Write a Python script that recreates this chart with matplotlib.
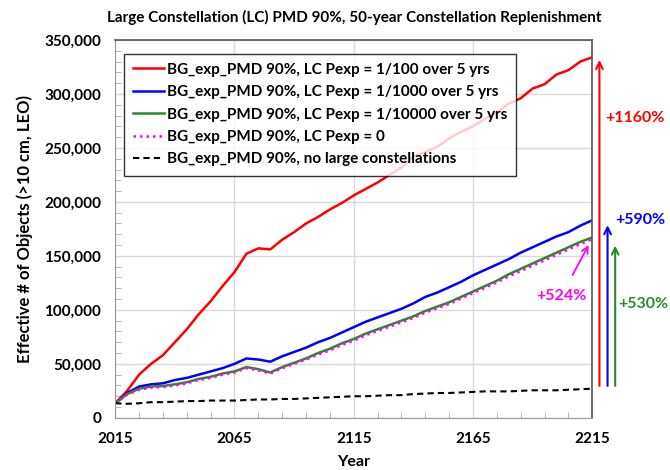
import matplotlib
matplotlib.use('Agg')
import matplotlib.pyplot as plt
from matplotlib.ticker import MultipleLocator, FuncFormatter, FixedLocator
import numpy as np

plt.rcParams['font.family'] = ['Lato', 'DejaVu Sans']
plt.rcParams['font.weight'] = 'bold'

years = list(range(2015, 2216, 5))

lc_100 = [13.5, 25, 40, 50, 58, 70, 82, 96, 108, 122, 135, 152, 157, 156, 165, 172, 180,
          186, 193, 199, 206, 212, 218, 225, 232, 242, 246, 251, 259, 265, 270, 277, 283,
          291, 296, 305, 309, 318, 322, 330, 334]
lc_1000 = [13.5, 23, 29, 31, 32, 35, 37, 40, 43, 46, 50, 55, 54, 52, 57, 61, 65, 70, 74,
           79, 84, 89, 93, 97, 101, 106, 112, 116, 121, 126, 132, 137, 142, 147, 153, 158,
           163, 168, 172, 178, 183]
lc_10000 = [13.5, 22, 27, 29, 29.5, 31, 33, 36, 38, 41, 43, 47, 45, 42, 47, 51, 55, 60, 64,
            69, 73, 78, 82, 86, 90, 94, 99, 103, 107, 112, 117, 122, 127, 133, 138, 143,
            148, 153, 158, 163, 167]
lc_0 = [13.5, 21.5, 26, 28, 28.5, 30, 32, 35, 37, 40, 42, 46, 44, 41, 46, 50, 54, 58.5, 62.5,
        67.5, 71.5, 76.5, 80.5, 84.5, 88.5, 92.5, 97.5, 101.5, 105.5, 110.5, 115.5, 120.5,
        125.5, 131, 136, 141, 146, 151, 156, 161, 165.5]
no_lc = [13.5, 13, 13.5, 14.5, 14.5, 15, 15.5, 15.5, 16, 16, 16, 16.5, 17, 17, 17.5, 17.5,
         18, 18.5, 19, 19.5, 20, 20, 20.5, 21, 21, 22, 22.5, 23, 23, 23.5, 24, 24.5, 24.5,
         24.5, 25, 25.5, 25.5, 25.5, 26, 26.5, 27]

labels = ['BG_exp_PMD 90%, LC Pexp = 1/100 over 5 yrs',
          'BG_exp_PMD 90%, LC Pexp = 1/1000 over 5 yrs',
          'BG_exp_PMD 90%, LC Pexp = 1/10000 over 5 yrs',
          'BG_exp_PMD 90%, LC Pexp = 0',
          'BG_exp_PMD 90%, no large constellations']
xticks = [2015, 2065, 2115, 2165, 2215]

k = 1000
fig = plt.figure(figsize=(6.7, 4.7), dpi=100)
ax = fig.add_axes([0.172, 0.111, 0.712, 0.804])

ax.plot(years, np.array(lc_100) * k, color='#ff0000', lw=1.8, label=labels[0])
ax.plot(years, np.array(lc_1000) * k, color='#0000ff', lw=1.8, label=labels[1])
ax.plot(years, np.array(lc_10000) * k, color='#2a8a2a', lw=1.8, label=labels[2])
ax.plot(years, np.array(lc_0) * k, color='#ff00ff', lw=1.8, ls=(0, (1, 1.6)), label=labels[3])
ax.plot(years, np.array(no_lc) * k, color='black', lw=1.5, ls=(0, (3, 2)), label=labels[4])

ax.set_xlim(2015, 2215)
ax.set_ylim(0, 350000)
ax.xaxis.set_major_locator(FixedLocator(xticks))
ax.xaxis.set_minor_locator(FixedLocator(list(range(2025, 2215, 10))))
ax.yaxis.set_major_locator(MultipleLocator(50000))
ax.yaxis.set_minor_locator(MultipleLocator(10000))
ax.yaxis.set_major_formatter(FuncFormatter(lambda v, p: '0' if v == 0 else f'{int(v):,}'))
ax.grid(True, which='major', color='#d9d9d9', lw=1)
ax.tick_params(which='major', length=0, labelsize=11, pad=10)
ax.tick_params(which='minor', direction='in', length=4, color='#aaaaaa')
for lab in ax.get_xticklabels() + ax.get_yticklabels():
    lab.set_fontweight('bold')
for s in ['left', 'bottom']:
    ax.spines[s].set_color('#999999')
for s in ['top', 'right']:
    ax.spines[s].set_color('#555555')
    ax.spines[s].set_linewidth(1.2)

ax.set_xlabel('Year', fontsize=11.5, fontweight='bold', labelpad=7)
ax.set_ylabel('Effective # of Objects (>10 cm, LEO)', fontsize=12, fontweight='bold', labelpad=8)
ax.set_title('Large Constellation (LC) PMD 90%, 50-year Constellation Replenishment',
             fontsize=11, fontweight='bold', pad=13)

leg = ax.legend(loc='upper left', bbox_to_anchor=(0.002, 0.984), fontsize=11, frameon=True,
                fancybox=False, edgecolor='black', handlelength=2.0, handletextpad=0.2,
                labelspacing=0.55, borderpad=0.6)
leg.get_frame().set_linewidth(1.0)
for t in leg.get_texts():
    t.set_fontweight('bold')

# growth arrows to the right of the axes
base = no_lc[-1] * k
arrows = [(2218.0, lc_100[-1] * k, '#ff0000'),
          (2221.4, 181000, '#0000ff'),
          (2224.6, 162000, '#2a8a2a')]
for x, top, c in arrows:
    ax.annotate('', xy=(x, top), xytext=(x, base), annotation_clip=False,
                arrowprops=dict(arrowstyle='->', color=c, lw=1.5, mutation_scale=12))

ax.text(2233, 278000, '+1160%', color='#ff0000', fontsize=11.5, fontweight='bold',
        ha='center', va='center', clip_on=False)
ax.text(2235, 183000, '+590%', color='#0000ff', fontsize=11.5, fontweight='bold',
        ha='center', va='center', clip_on=False)
ax.text(2236.5, 105000, '+530%', color='#2a8a2a', fontsize=11.5, fontweight='bold',
        ha='center', va='center', clip_on=False)
ax.annotate('+524%', xy=(2213.5, 160000), xytext=(2202, 113000), color='#ff00ff',
            fontsize=11.5, fontweight='bold', ha='center', va='center', annotation_clip=False,
            arrowprops=dict(arrowstyle='->', color='#ff00ff', lw=1.3, shrinkA=9, shrinkB=0))

fig.savefig('out.png', dpi=100)
